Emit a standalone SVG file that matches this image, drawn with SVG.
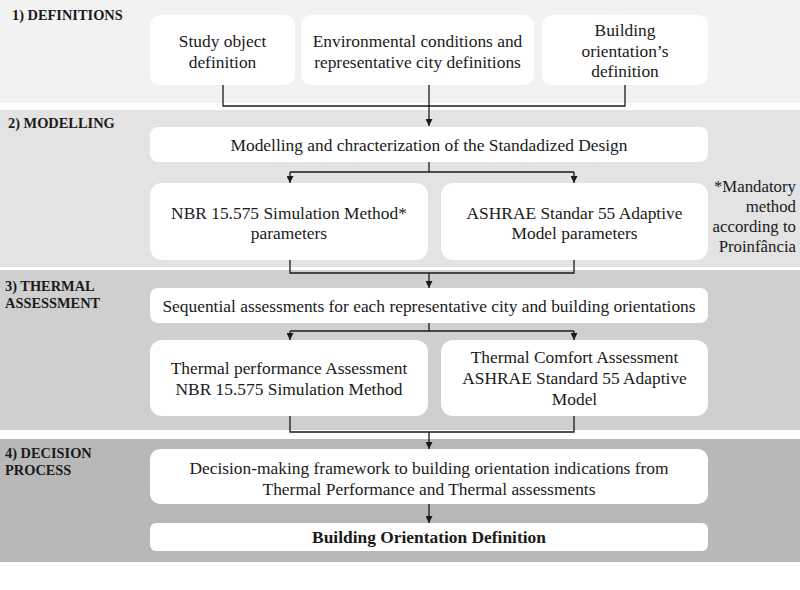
<svg xmlns="http://www.w3.org/2000/svg" width="800" height="590" viewBox="0 0 800 590">
<defs>
<marker id="arr" viewBox="0 0 8 8" refX="8" refY="4" markerWidth="7" markerHeight="7" markerUnits="userSpaceOnUse" orient="auto">
<path d="M0,0 L8,4 L0,8 Z" fill="#1a1a1a"/>
</marker>
</defs>
<style>
text{font-family:"Liberation Serif","Times New Roman",serif;fill:#1a1a1a}
.t{font-size:17.4px;text-anchor:middle}
.h{font-size:14.4px;font-weight:bold}
.b{fill:#ffffff;stroke:none}
.c{fill:none;stroke:#1a1a1a;stroke-width:1.3}
.n{font-size:16.8px;text-anchor:end}
</style>
<rect width="800" height="590" fill="#ffffff"/>
<rect x="0" y="0" width="800" height="103" fill="#f2f2f2"/>
<rect x="0" y="110" width="800" height="157" fill="#e3e3e3"/>
<rect x="0" y="270" width="800" height="160" fill="#cfcfcf"/>
<rect x="0" y="439" width="800" height="123" fill="#b8b8b8"/>
<g id="labels">
<text class="h" x="12" y="20">1) DEFINITIONS</text>
<text class="h" x="8" y="128">2) MODELLING</text>
<text class="h" x="5" y="291">3) THERMAL</text>
<text class="h" x="5" y="308">ASSESSMENT</text>
<text class="h" x="5" y="458">4) DECISION</text>
<text class="h" x="5" y="475">PROCESS</text>
</g>
<g id="connectors">
<polyline class="c" points="223,85 223,106 625,106 625,85"/>
<line class="c" x1="429" y1="85" x2="429" y2="126" marker-end="url(#arr)"/>
<line class="c" x1="429" y1="162" x2="429" y2="172"/>
<polyline class="c" points="290,172 574,172"/>
<line class="c" x1="290" y1="172" x2="290" y2="183" marker-end="url(#arr)"/>
<line class="c" x1="574" y1="172" x2="574" y2="183" marker-end="url(#arr)"/>
<polyline class="c" points="290,260 290,273 574,273 574,260"/>
<line class="c" x1="429" y1="273" x2="429" y2="288" marker-end="url(#arr)"/>
<line class="c" x1="429" y1="323" x2="429" y2="331"/>
<polyline class="c" points="290,331 574,331"/>
<line class="c" x1="290" y1="331" x2="290" y2="340" marker-end="url(#arr)"/>
<line class="c" x1="574" y1="331" x2="574" y2="340" marker-end="url(#arr)"/>
<polyline class="c" points="290,416 290,432 574,432 574,416"/>
<line class="c" x1="429" y1="432" x2="429" y2="449" marker-end="url(#arr)"/>
<line class="c" x1="429" y1="504" x2="429" y2="523" marker-end="url(#arr)"/>
</g>
<g id="study">
<rect class="b" x="150" y="15" width="145" height="70" rx="10"/>
<text class="t" x="222.5" y="47">Study object</text>
<text class="t" x="222.5" y="68">definition</text>
</g>
<g id="env">
<rect class="b" x="301" y="15" width="233" height="70" rx="10"/>
<text class="t" x="417.5" y="47">Environmental conditions and</text>
<text class="t" x="417.5" y="68">representative city definitions</text>
</g>
<g id="orient">
<rect class="b" x="542" y="15" width="166" height="70" rx="10"/>
<text class="t" x="625" y="36">Building</text>
<text class="t" x="625" y="57">orientation’s</text>
<text class="t" x="625" y="77">definition</text>
</g>
<g id="modelling">
<rect class="b" x="150" y="127" width="558" height="35" rx="8"/>
<text class="t" x="429" y="150.5">Modelling and chracterization of the Standadized Design</text>
</g>
<g id="nbr">
<rect class="b" x="150" y="183" width="278" height="77" rx="12"/>
<text class="t" x="289" y="218.5">NBR 15.575 Simulation Method*</text>
<text class="t" x="289" y="239">parameters</text>
</g>
<g id="ashrae">
<rect class="b" x="441" y="183" width="267" height="77" rx="12"/>
<text class="t" x="574.5" y="218.5">ASHRAE Standar 55 Adaptive</text>
<text class="t" x="574.5" y="239">Model parameters</text>
</g>
<g id="note">
<text class="n" x="796" y="192">*Mandatory</text>
<text class="n" x="796" y="212">method</text>
<text class="n" x="796" y="232">according to</text>
<text class="n" x="796" y="252">Proinfância</text>
</g>
<g id="sequential">
<rect class="b" x="150" y="288" width="558" height="35" rx="8"/>
<text class="t" x="429" y="311.5">Sequential assessments for each representative city and building orientations</text>
</g>
<g id="perf">
<rect class="b" x="150" y="340" width="278" height="76" rx="12"/>
<text class="t" x="289" y="373.5">Thermal performance Assessment</text>
<text class="t" x="289" y="394.5">NBR 15.575 Simulation Method</text>
</g>
<g id="comfort">
<rect class="b" x="441" y="340" width="267" height="76" rx="12"/>
<text class="t" x="574.5" y="362.5">Thermal Comfort Assessment</text>
<text class="t" x="574.5" y="383.5">ASHRAE Standard 55 Adaptive</text>
<text class="t" x="574.5" y="404.5">Model</text>
</g>
<g id="decision">
<rect class="b" x="150" y="449" width="558" height="55" rx="10"/>
<text class="t" x="429" y="473.5">Decision-making framework to building orientation indications from</text>
<text class="t" x="429" y="494.5">Thermal Performance and Thermal assessments</text>
</g>
<g id="final">
<rect class="b" x="150" y="523" width="558" height="28" rx="6"/>
<text class="t" x="429" y="543" font-weight="bold">Building Orientation Definition</text>
</g>
</svg>
